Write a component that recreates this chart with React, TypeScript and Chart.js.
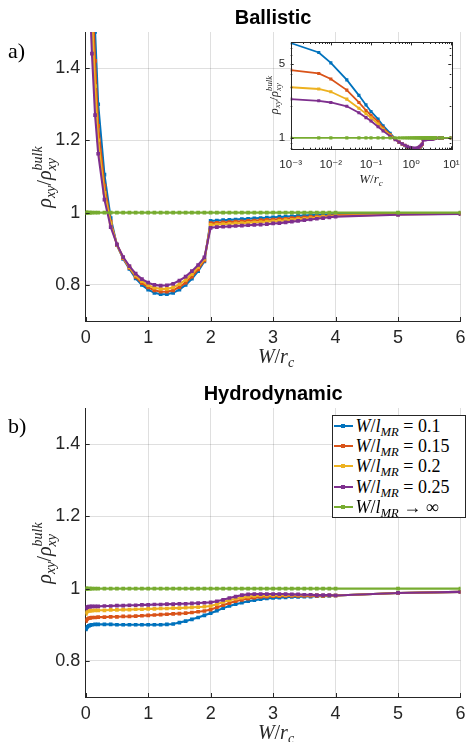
import React, { useEffect, useRef } from 'react';
import { Chart, registerables } from 'chart.js';

Chart.register(...registerables);

// ---------------- data ----------------
const LEGEND_VALUES = ['0.1', '0.15', '0.2', '0.25', '∞'];
const SERIES_COLORS = ['#0072BD', '#D95319', '#EDB120', '#7E2F8E', '#77AC30'];

const X_TICKS = [0, 1, 2, 3, 4, 5, 6];
const Y_TICKS = [0.8, 1, 1.2, 1.4];
const INSET_X_TICKS = [0.001, 0.01, 0.1, 1, 10];
const INSET_X_LABELS = ['10⁻³', '10⁻²', '10⁻¹', '10⁰', '10¹'];
const INSET_Y_TICKS = [1, 5];
const INSET_Y_MINOR = [0.8, 0.9, 2, 3, 4, 6, 7];

const X_BALLISTIC = [0.001, 0.005, 0.01, 0.025, 0.05, 0.075, 0.1, 0.15, 0.2, 0.3, 0.4,
  0.5, 0.6, 0.7, 0.8, 0.9, 1.0, 1.1, 1.2, 1.3, 1.4, 1.5, 1.6, 1.7, 1.8, 1.9, 2.0,
  2.1, 2.2, 2.3, 2.4, 2.5, 2.6, 2.7, 2.8, 2.9, 3.0, 3.1, 3.2, 3.3, 3.4, 3.5, 3.6, 3.7, 3.8, 3.9, 4.0,
  5, 6, 10];

const BAL_01 = [7.8, 6.35, 5.07, 3.51, 2.51, 2.04, 1.77, 1.5, 1.3, 1.105, 0.985,
  0.91, 0.872, 0.844, 0.818, 0.8, 0.787, 0.778, 0.774, 0.774, 0.778, 0.787, 0.8, 0.817, 0.838, 0.865, 0.977,
  0.978, 0.979, 0.98, 0.981, 0.982, 0.983, 0.984, 0.985, 0.986, 0.987, 0.988, 0.989, 0.99, 0.991, 0.992, 0.993, 0.994, 0.995, 0.995, 0.996,
  0.998, 0.999, 1.0];
const BAL_015 = [4.33, 4.03, 3.58, 2.81, 2.15, 1.81, 1.63, 1.42, 1.24, 1.075, 0.975,
  0.911, 0.874, 0.847, 0.822, 0.805, 0.793, 0.785, 0.781, 0.781, 0.785, 0.794, 0.806, 0.823, 0.843, 0.868, 0.971,
  0.972, 0.973, 0.974, 0.975, 0.976, 0.977, 0.978, 0.979, 0.98, 0.981, 0.982, 0.983, 0.985, 0.986, 0.987, 0.988, 0.989, 0.99, 0.991, 0.993,
  0.996, 0.998, 0.999];
const BAL_02 = [2.99, 2.88, 2.71, 2.31, 1.9, 1.69, 1.54, 1.35, 1.2, 1.055, 0.97,
  0.911, 0.875, 0.849, 0.826, 0.81, 0.799, 0.792, 0.789, 0.789, 0.793, 0.802, 0.814, 0.83, 0.849, 0.872, 0.966,
  0.967, 0.968, 0.969, 0.97, 0.971, 0.972, 0.973, 0.974, 0.975, 0.976, 0.977, 0.979, 0.98, 0.982, 0.983, 0.985, 0.986, 0.988, 0.989, 0.991,
  0.995, 0.997, 0.999];
const BAL_025 = [2.31, 2.23, 2.15, 1.98, 1.72, 1.55, 1.44, 1.27, 1.163, 1.036, 0.96,
  0.912, 0.877, 0.852, 0.831, 0.816, 0.806, 0.8, 0.798, 0.799, 0.803, 0.812, 0.823, 0.838, 0.855, 0.876, 0.958,
  0.96, 0.961, 0.962, 0.963, 0.964, 0.965, 0.966, 0.967, 0.968, 0.97, 0.971, 0.973, 0.975, 0.977, 0.979, 0.981, 0.983, 0.985, 0.987, 0.989,
  0.994, 0.996, 0.998];
const BAL_INF = [1, 1, 1, 1, 1, 1, 1, 1, 1, 1, 1,
  1, 1, 1, 1, 1, 1, 1, 1, 1, 1, 1, 1, 1, 1, 1, 1,
  1, 1, 1, 1, 1, 1, 1, 1, 1, 1, 1, 1, 1, 1, 1, 1, 1, 1, 1, 1,
  1, 1, 1];

const X_HYDRO = [0.001, 0.005, 0.01, 0.025, 0.05, 0.075, 0.1, 0.15, 0.2, 0.3, 0.4,
  0.5, 0.6, 0.7, 0.8, 0.9, 1.0, 1.1, 1.2, 1.3, 1.4, 1.5, 1.6, 1.7, 1.8, 1.9, 2.0,
  2.1, 2.2, 2.3, 2.4, 2.5, 2.6, 2.7, 2.8, 2.9, 3.0, 3.1, 3.2, 3.3, 3.4, 3.5, 3.6, 3.7, 3.8, 3.9, 4.0,
  5, 6];

const HYD_01 = [0.887, 0.889, 0.891, 0.894, 0.897, 0.899, 0.9, 0.901, 0.901, 0.901, 0.901,
  0.9, 0.9, 0.9, 0.9, 0.9, 0.9, 0.9, 0.9, 0.901, 0.902, 0.906, 0.91, 0.915, 0.92, 0.926, 0.932,
  0.939, 0.946, 0.952, 0.957, 0.961, 0.965, 0.968, 0.971, 0.973, 0.974, 0.975, 0.976, 0.977, 0.977, 0.978, 0.978, 0.979, 0.979, 0.98, 0.981,
  0.988, 0.991];
const HYD_015 = [0.91, 0.912, 0.914, 0.916, 0.918, 0.919, 0.92, 0.92, 0.921, 0.921, 0.922,
  0.922, 0.923, 0.923, 0.924, 0.925, 0.926, 0.927, 0.928, 0.929, 0.93, 0.931, 0.932, 0.934, 0.936, 0.938, 0.942,
  0.948, 0.954, 0.96, 0.965, 0.969, 0.972, 0.975, 0.977, 0.978, 0.979, 0.979, 0.98, 0.98, 0.98, 0.98, 0.98, 0.98, 0.98, 0.981, 0.981,
  0.988, 0.991];
const HYD_02 = [0.93, 0.933, 0.935, 0.937, 0.938, 0.939, 0.939, 0.94, 0.94, 0.94, 0.941,
  0.941, 0.942, 0.942, 0.943, 0.943, 0.944, 0.944, 0.945, 0.945, 0.946, 0.946, 0.947, 0.948, 0.949, 0.95, 0.952,
  0.957, 0.963, 0.968, 0.972, 0.975, 0.978, 0.98, 0.981, 0.981, 0.982, 0.982, 0.982, 0.982, 0.982, 0.982, 0.982, 0.982, 0.981, 0.981, 0.981,
  0.988, 0.991];
const HYD_025 = [0.945, 0.947, 0.948, 0.949, 0.95, 0.95, 0.951, 0.951, 0.951, 0.952, 0.952,
  0.953, 0.953, 0.954, 0.954, 0.955, 0.955, 0.956, 0.956, 0.957, 0.957, 0.958, 0.958, 0.959, 0.96, 0.961, 0.962,
  0.965, 0.969, 0.974, 0.978, 0.982, 0.984, 0.985, 0.985, 0.985, 0.985, 0.985, 0.985, 0.984, 0.984, 0.983, 0.983, 0.982, 0.982, 0.982, 0.981,
  0.988, 0.991];
const HYD_INF = [1, 1, 1, 1, 1, 1, 1, 1, 1, 1, 1,
  1, 1, 1, 1, 1, 1, 1, 1, 1, 1, 1, 1, 1, 1, 1, 1,
  1, 1, 1, 1, 1, 1, 1, 1, 1, 1, 1, 1, 1, 1, 1, 1, 1, 1, 1, 1,
  1, 1];

// ---------------- styling ----------------
const FONT_SANS = '"Liberation Sans", Arial, Helvetica, sans-serif';
const FONT_SERIF = '"Liberation Serif", "Times New Roman", serif';
const AXIS_COLOR = '#262626';
const GRID_COLOR = 'rgba(38,38,38,0.15)';

function buildDatasets(xs: number[], series: number[][], lw: number, pr: number) {
  return series.map((ys, i) => ({
    label: LEGEND_VALUES[i],
    data: xs.map((x, j) => ({ x, y: ys[j] })),
    borderColor: SERIES_COLORS[i],
    backgroundColor: SERIES_COLORS[i],
    pointBackgroundColor: SERIES_COLORS[i],
    pointBorderColor: SERIES_COLORS[i],
    borderWidth: lw,
    pointRadius: pr,
    pointStyle: 'rect',
    pointBorderWidth: 0,
    order: series.length - 1 - i,
    tension: 0,
  }));
}

const inwardTicks = {
  id: 'inwardTicks',
  afterDraw(chart: any) {
    const { ctx, chartArea: a, scales } = chart;
    ctx.save();
    ctx.strokeStyle = AXIS_COLOR;
    ctx.lineWidth = 1;
    ctx.beginPath();
    scales.x.ticks.forEach((t: any) => {
      const px = Math.round(scales.x.getPixelForValue(t.value)) + 0.5;
      ctx.moveTo(px, a.bottom);
      ctx.lineTo(px, a.bottom - 4);
    });
    scales.y.ticks.forEach((t: any) => {
      const py = Math.round(scales.y.getPixelForValue(t.value)) + 0.5;
      ctx.moveTo(a.left, py);
      ctx.lineTo(a.left + 4, py);
    });
    ctx.stroke();
    ctx.restore();
  },
};

const insetFrame = {
  id: 'insetFrame',
  beforeDraw(chart: any) {
    const { ctx, chartArea: a } = chart;
    ctx.save();
    ctx.fillStyle = '#ffffff';
    ctx.fillRect(a.left, a.top, a.right - a.left, a.bottom - a.top);
    ctx.restore();
  },
  afterDraw(chart: any) {
    const { ctx, chartArea: a, scales } = chart;
    ctx.save();
    ctx.strokeStyle = AXIS_COLOR;
    ctx.lineWidth = 1;
    ctx.beginPath();
    const xMinor: number[] = [];
    for (let d = 0; d < INSET_X_TICKS.length - 1; d++) {
      for (let k = 2; k <= 9; k++) xMinor.push(INSET_X_TICKS[d] * k);
    }
    const xt = (v: number, len: number) => {
      const px = Math.round(scales.x.getPixelForValue(v)) + 0.5;
      ctx.moveTo(px, a.bottom); ctx.lineTo(px, a.bottom - len);
      ctx.moveTo(px, a.top); ctx.lineTo(px, a.top + len);
    };
    const yt = (v: number, len: number) => {
      const py = Math.round(scales.y.getPixelForValue(v)) + 0.5;
      ctx.moveTo(a.left, py); ctx.lineTo(a.left + len, py);
      ctx.moveTo(a.right, py); ctx.lineTo(a.right - len, py);
    };
    INSET_X_TICKS.forEach((v) => xt(v, 3));
    xMinor.forEach((v) => xt(v, 1.6));
    INSET_Y_TICKS.forEach((v) => yt(v, 3));
    INSET_Y_MINOR.forEach((v) => yt(v, 1.6));
    ctx.stroke();
    ctx.strokeRect(Math.round(a.left) + 0.5, Math.round(a.top) + 0.5,
      Math.round(a.right - a.left), Math.round(a.bottom - a.top));
    ctx.restore();
  },
};

function mainConfig(title: string, xs: number[], series: number[][]): any {
  return {
    type: 'line',
    data: { datasets: buildDatasets(xs, series, 2.1, 2.6) },
    plugins: [inwardTicks],
    options: {
      animation: false,
      responsive: false,
      events: [],
      layout: { padding: { left: 0, right: 6.3, top: 0, bottom: 0 } },
      plugins: {
        legend: { display: false },
        tooltip: { enabled: false },
        title: {
          display: true,
          text: title,
          fullSize: false,
          color: '#000',
          font: { family: FONT_SANS, size: 20, weight: 'bold', lineHeight: 1.2 },
          padding: { top: 6, bottom: 2 },
        },
      },
      scales: {
        x: {
          type: 'linear',
          min: 0,
          max: 6,
          afterBuildTicks: (s: any) => { s.ticks = X_TICKS.map((v) => ({ value: v })); },
          afterFit: (s: any) => { s.height = 45; },
          grid: { color: GRID_COLOR, lineWidth: 1, drawTicks: false },
          border: { color: AXIS_COLOR, width: 1 },
          ticks: {
            autoSkip: false, maxRotation: 0, padding: 6.5, color: AXIS_COLOR,
            font: { family: FONT_SANS, size: 18 },
            callback: (v: any) => String(v),
          },
        },
        y: {
          type: 'linear',
          min: 0.7,
          max: 1.5,
          afterBuildTicks: (s: any) => { s.ticks = Y_TICKS.map((v) => ({ value: v })); },
          afterFit: (s: any) => { s.width = 85.7; },
          grid: { color: GRID_COLOR, lineWidth: 1, drawTicks: false },
          border: { color: AXIS_COLOR, width: 1 },
          ticks: {
            autoSkip: false, padding: 5.5, color: AXIS_COLOR,
            font: { family: FONT_SANS, size: 18 },
            callback: (v: any) => String(v),
          },
        },
      },
    },
  };
}

function insetConfig(): any {
  return {
    type: 'line',
    data: { datasets: buildDatasets(X_BALLISTIC, [BAL_01, BAL_015, BAL_02, BAL_025, BAL_INF], 1.8, 2.2) },
    plugins: [insetFrame],
    options: {
      animation: false,
      responsive: false,
      events: [],
      layout: { padding: { left: 0, right: 20.7, top: 9.3, bottom: 0 } },
      plugins: { legend: { display: false }, tooltip: { enabled: false }, title: { display: false } },
      scales: {
        x: {
          type: 'logarithmic',
          min: 0.001,
          max: 10,
          afterBuildTicks: (s: any) => { s.ticks = INSET_X_TICKS.map((v) => ({ value: v })); },
          afterFit: (s: any) => { s.height = 50.7; },
          grid: { display: false, drawTicks: false },
          border: { display: false },
          ticks: {
            autoSkip: false, maxRotation: 0, padding: 9, color: AXIS_COLOR,
            font: { family: '"Liberation Sans", "DejaVu Sans", sans-serif', size: 11.5 },
            callback: (_v: any, i: number) => INSET_X_LABELS[i],
          },
        },
        y: {
          type: 'logarithmic',
          min: 0.78,
          max: 7.9,
          afterBuildTicks: (s: any) => { s.ticks = INSET_Y_TICKS.map((v) => ({ value: v })); },
          afterFit: (s: any) => { s.width = 40.7; },
          grid: { display: false, drawTicks: false },
          border: { display: false },
          ticks: {
            autoSkip: false, padding: 5.5, color: AXIS_COLOR,
            font: { family: FONT_SANS, size: 11.5 },
            callback: (v: any) => String(v),
          },
        },
      },
    },
  };
}

function ChartCanvas({ left, top, width, height, make }: any) {
  const ref = useRef<HTMLCanvasElement | null>(null);
  useEffect(() => {
    const chart = new Chart(ref.current as HTMLCanvasElement, make());
    return () => chart.destroy();
  }, []);
  return (
    <canvas
      ref={ref}
      width={width}
      height={height}
      style={{ position: 'absolute', left, top, width, height }}
    />
  );
}

// ---------------- math labels ----------------
const Sub = ({ children }: any) => (
  <span style={{ fontSize: '0.7em', verticalAlign: '-0.3em', lineHeight: 0 }}>{children}</span>
);

const SubSup = ({ sub, sup }: any) => (
  <span
    style={{
      display: 'inline-flex', flexDirection: 'column', fontSize: '0.7em',
      lineHeight: 1, verticalAlign: '0.62em',
    }}
  >
    <span>{sup}</span>
    <span>{sub}</span>
  </span>
);

const RhoLabel = ({ cx, cy, size }: any) => (
  <div
    style={{
      position: 'absolute', left: cx, top: cy, transform: 'translate(-50%, -50%) rotate(-90deg)',
      whiteSpace: 'nowrap', fontFamily: FONT_SERIF, fontStyle: 'italic', fontSize: size,
      lineHeight: 1, color: AXIS_COLOR,
    }}
  >
    ρ<Sub>xy</Sub><span style={{ fontStyle: 'normal' }}>/</span>ρ<SubSup sub="xy" sup="bulk" />
  </div>
);

const XLabel = ({ cx, top, size }: any) => (
  <div
    style={{
      position: 'absolute', left: cx, top, transform: 'translateX(-50%)', whiteSpace: 'nowrap',
      fontFamily: FONT_SERIF, fontSize: size, lineHeight: `${size}px`, color: AXIS_COLOR,
    }}
  >
    <i>W</i>/<i>r</i><Sub><i>c</i></Sub>
  </div>
);

const PanelTag = ({ text, top }: any) => (
  <div
    style={{
      position: 'absolute', left: 8, top, fontFamily: FONT_SERIF, fontSize: 22,
      lineHeight: '22px', color: '#000',
    }}
  >
    {text}
  </div>
);

function Legend() {
  return (
    <div
      style={{
        position: 'absolute', left: 331.5, top: 415, width: 134.5, height: 102.5,
        border: `1px solid ${AXIS_COLOR}`, background: '#fff', boxSizing: 'border-box',
      }}
    >
      {LEGEND_VALUES.map((v, i) => (
        <div
          key={i}
          style={{
            position: 'absolute', left: 1, top: i * 20.4 - 0.5, height: 20.4,
            display: 'flex', alignItems: 'center', whiteSpace: 'nowrap',
          }}
        >
          <span style={{ position: 'relative', display: 'inline-block', width: 19, height: 2, background: SERIES_COLORS[i] }}>
            <span
              style={{
                position: 'absolute', left: 7.5, top: -1, width: 4, height: 4, background: SERIES_COLORS[i],
              }}
            />
          </span>
          <span
            style={{
              marginLeft: 3, fontFamily: FONT_SERIF, fontSize: 18, lineHeight: '20px', color: '#000',
            }}
          >
            <i>W</i>/<i>l</i><Sub><i>MR</i></Sub>
            {i < 4 ? <span>&nbsp;=&nbsp;{v}</span> : <span>&nbsp;→&nbsp;{v}</span>}
          </span>
        </div>
      ))}
    </div>
  );
}

export default function App() {
  return (
    <div
      style={{
        position: 'absolute', left: 0, top: 0, width: 472, height: 742, background: '#fff',
        overflow: 'hidden',
      }}
    >
      <ChartCanvas
        left={0} top={0} width={472} height={366}
        make={() => mainConfig('Ballistic', X_BALLISTIC, [BAL_01, BAL_015, BAL_02, BAL_025, BAL_INF])}
      />
      <ChartCanvas left={250} top={30} width={222} height={170} make={insetConfig} />
      <ChartCanvas
        left={0} top={376} width={472} height={366}
        make={() => mainConfig('Hydrodynamic', X_HYDRO, [HYD_01, HYD_015, HYD_02, HYD_025, HYD_INF])}
      />

      <PanelTag text="a)" top={40} />
      <PanelTag text="b)" top={415} />

      <RhoLabel cx={45} cy={176.5} size={20} />
      <RhoLabel cx={45} cy={552.5} size={20} />
      <RhoLabel cx={273.5} cy={95} size={12.5} />

      <XLabel cx={276} top={345.5} size={20} />
      <XLabel cx={276} top={721.5} size={20} />
      <XLabel cx={371} top={172} size={13} />

      <Legend />
    </div>
  );
}
